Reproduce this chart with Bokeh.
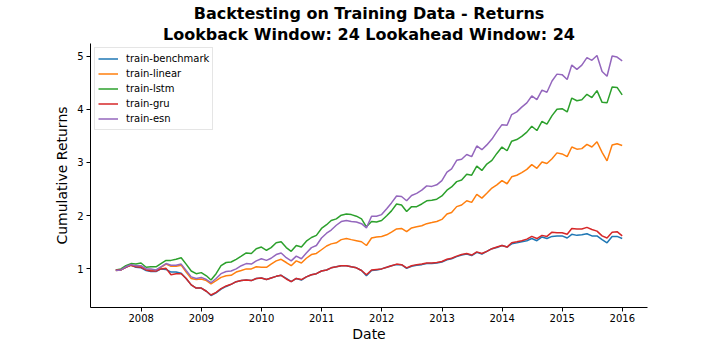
import pandas as pd
from bokeh.plotting import figure
from bokeh.models import Range1d, FixedTicker, DatetimeTickFormatter, Title
from bokeh.embed import file_html
from bokeh.resources import INLINE

# ---- data (month-end, 2007-07 .. 2015-12) ----
start_date = "2007-07-31"
n_months = 102
year_ticks = [2008, 2009, 2010, 2011, 2012, 2013, 2014, 2015, 2016]
y_ticks = [1, 2, 3, 4, 5]

benchmark = [0.98, 0.98, 1.03, 1.07, 1.03, 1.02, 0.97, 0.95, 0.95, 1.00,
             0.99, 0.94, 0.94, 0.92, 0.82, 0.70, 0.64, 0.64, 0.58, 0.50,
             0.55, 0.62, 0.67, 0.71, 0.76, 0.78, 0.79, 0.78, 0.82, 0.83,
             0.80, 0.83, 0.86, 0.88, 0.82, 0.76, 0.82, 0.79, 0.85, 0.89,
             0.91, 0.96, 0.98, 1.02, 1.04, 1.06, 1.06, 1.04, 1.02, 0.97,
             0.87, 0.97, 0.98, 1.00, 1.03, 1.06, 1.08, 1.08, 1.01, 1.05,
             1.07, 1.08, 1.10, 1.10, 1.11, 1.13, 1.17, 1.19, 1.23, 1.26,
             1.28, 1.25, 1.31, 1.28, 1.33, 1.38, 1.40, 1.44, 1.41, 1.47,
             1.49, 1.51, 1.53, 1.57, 1.53, 1.60, 1.57, 1.61, 1.62, 1.62,
             1.58, 1.65, 1.63, 1.64, 1.66, 1.62, 1.62, 1.55, 1.49, 1.61,
             1.61, 1.57]

linear = [0.97, 0.98, 1.04, 1.07, 1.05, 1.05, 0.99, 0.98, 0.97, 1.03,
          1.09, 1.05, 1.05, 1.07, 0.94, 0.82, 0.80, 0.81, 0.78, 0.72,
          0.78, 0.84, 0.87, 0.88, 0.94, 0.97, 1.00, 1.00, 1.04, 1.03,
          1.03, 1.09, 1.15, 1.18, 1.12, 1.06, 1.15, 1.11, 1.20, 1.27,
          1.29, 1.36, 1.43, 1.47, 1.49, 1.55, 1.57, 1.55, 1.53, 1.51,
          1.44, 1.58, 1.60, 1.61, 1.64, 1.69, 1.75, 1.76, 1.70, 1.77,
          1.79, 1.81, 1.85, 1.87, 1.89, 1.93, 2.03, 2.06, 2.17, 2.20,
          2.28, 2.25, 2.40, 2.33, 2.42, 2.52, 2.58, 2.66, 2.60, 2.73,
          2.76, 2.81, 2.87, 2.96, 2.89, 3.01, 2.98, 3.07, 3.18, 3.16,
          3.11, 3.29, 3.25, 3.26, 3.34, 3.29, 3.39, 3.19, 3.03, 3.33,
          3.35, 3.32]

lstm = [0.98, 1.00, 1.06, 1.10, 1.09, 1.11, 1.03, 1.04, 1.04, 1.10,
        1.16, 1.16, 1.18, 1.21, 1.09, 0.96, 0.91, 0.93, 0.87, 0.79,
        0.91, 1.06, 1.12, 1.13, 1.18, 1.24, 1.30, 1.29, 1.38, 1.41,
        1.35, 1.40, 1.49, 1.51, 1.40, 1.33, 1.44, 1.41, 1.52, 1.59,
        1.63, 1.76, 1.83, 1.91, 1.94, 2.01, 2.03, 2.02, 1.99, 1.94,
        1.79, 1.89, 1.88, 1.91, 2.00, 2.09, 2.22, 2.20, 2.08, 2.17,
        2.17, 2.22, 2.28, 2.29, 2.31, 2.37, 2.48, 2.54, 2.64, 2.67,
        2.78, 2.76, 2.93, 2.85, 2.97, 3.04, 3.17, 3.29, 3.22, 3.40,
        3.43, 3.49, 3.57, 3.68, 3.60, 3.77, 3.72, 3.88, 4.00, 4.01,
        3.95, 4.21, 4.16, 4.18, 4.28, 4.22, 4.35, 4.13, 4.12, 4.42,
        4.41, 4.27]

gru = [0.98, 0.98, 1.03, 1.07, 1.04, 1.03, 0.98, 0.96, 0.96, 1.00,
       1.01, 0.89, 0.91, 0.91, 0.82, 0.70, 0.64, 0.64, 0.58, 0.51,
       0.56, 0.63, 0.68, 0.71, 0.76, 0.78, 0.79, 0.78, 0.82, 0.83,
       0.80, 0.83, 0.86, 0.88, 0.81, 0.76, 0.82, 0.80, 0.85, 0.89,
       0.91, 0.96, 0.98, 1.02, 1.04, 1.06, 1.06, 1.04, 1.02, 0.97,
       0.89, 0.98, 0.99, 1.00, 1.03, 1.06, 1.09, 1.08, 1.02, 1.06,
       1.08, 1.09, 1.11, 1.11, 1.12, 1.14, 1.18, 1.20, 1.24, 1.27,
       1.29, 1.26, 1.32, 1.29, 1.33, 1.38, 1.41, 1.44, 1.41, 1.49,
       1.51, 1.53, 1.56, 1.61, 1.57, 1.63, 1.61, 1.69, 1.68, 1.68,
       1.65, 1.76, 1.75, 1.75, 1.78, 1.74, 1.71, 1.62, 1.58, 1.69,
       1.70, 1.62]

esn = [0.97, 0.98, 1.04, 1.08, 1.06, 1.06, 1.00, 1.00, 0.98, 1.04,
       1.10, 1.07, 1.07, 1.09, 0.97, 0.85, 0.82, 0.84, 0.80, 0.74,
       0.82, 0.91, 0.95, 0.96, 1.00, 1.06, 1.10, 1.09, 1.15, 1.19,
       1.16, 1.20, 1.27, 1.30, 1.21, 1.15, 1.24, 1.19, 1.30, 1.40,
       1.44, 1.58, 1.67, 1.73, 1.82, 1.89, 1.91, 1.89, 1.88, 1.85,
       1.77, 1.99, 1.99, 2.02, 2.13, 2.24, 2.37, 2.36, 2.28, 2.38,
       2.42, 2.48, 2.56, 2.55, 2.58, 2.66, 2.82, 2.88, 3.04, 3.06,
       3.15, 3.11, 3.31, 3.24, 3.33, 3.44, 3.58, 3.71, 3.70, 3.90,
       3.95, 4.04, 4.12, 4.25, 4.18, 4.36, 4.32, 4.53, 4.66, 4.65,
       4.56, 4.83, 4.75, 4.83, 4.97, 4.92, 5.01, 4.71, 4.62, 5.00,
       4.98, 4.91]

series_names = ["train-benchmark", "train-linear", "train-lstm", "train-gru", "train-esn"]
series_values = [benchmark, linear, lstm, gru, esn]
colors = ["#1f77b4", "#ff7f0e", "#2ca02c", "#d62728", "#9467bd"]

dates = pd.date_range(start_date, periods=n_months, freq=pd.offsets.MonthEnd())

# ---- ranges (matplotlib-like 5% margins) ----
to_ms = lambda ts: ts.value / 1e6
x0, x1 = to_ms(dates[0]), to_ms(dates[-1])
dx = x1 - x0
all_vals = [v for s in series_values for v in s]
y0, y1 = min(all_vals), max(all_vals)
dy = y1 - y0

FONT = "DejaVu Sans"

p = figure(width=704, height=344, x_axis_type="datetime", title=None,
           x_range=Range1d(x0 - 0.05 * dx, x1 + 0.05 * dx),
           y_range=Range1d(y0 - 0.05 * dy, y1 + 0.05 * dy),
           output_backend="svg", toolbar_location=None,
           min_border_left=90, min_border_right=57,
           min_border_top=43, min_border_bottom=36)

for name, vals, col in zip(series_names, series_values, colors):
    p.line(dates, vals, line_color=col, line_width=1.5, legend_label=name)

# titles
p.add_layout(Title(text="Lookback Window: 24 Lookahead Window: 24", align="center",
                   text_font=FONT, text_font_size="16px", text_font_style="bold",
                   text_color="black", standoff=0, offset=0), "above")
p.add_layout(Title(text="Backtesting on Training Data - Returns", align="center",
                   text_font=FONT, text_font_size="16px", text_font_style="bold",
                   text_color="black", standoff=0, offset=0), "above")

# axes
p.xgrid.grid_line_color = None
p.ygrid.grid_line_color = None
p.outline_line_color = None

p.xaxis.ticker = FixedTicker(ticks=[to_ms(pd.Timestamp(f"{y}-01-01")) for y in year_ticks])
p.xaxis.formatter = DatetimeTickFormatter(years="%Y", months="%Y", days="%Y",
                                          hours="%Y", minutes="%Y")
p.yaxis.ticker = FixedTicker(ticks=y_ticks)

for ax in (p.xaxis[0], p.yaxis[0]):
    ax.axis_line_color = "black"
    ax.axis_line_width = 1
    ax.major_tick_line_color = "black"
    ax.major_tick_line_width = 1
    ax.major_tick_out = 4
    ax.major_tick_in = 0
    ax.minor_tick_line_color = None
    ax.major_label_text_font = FONT
    ax.major_label_text_font_size = "10px"
    ax.major_label_text_color = "black"
    ax.major_label_standoff = 3
    ax.axis_label_text_font = FONT
    ax.axis_label_text_font_size = "14px"
    ax.axis_label_text_font_style = "normal"
    ax.axis_label_text_color = "black"
    ax.axis_label_standoff = 4

p.xaxis.major_label_standoff = 2
p.xaxis.axis_label_standoff = 1

p.xaxis.axis_label = "Date"
p.yaxis.axis_label = "Cumulative Returns"

# legend
lg = p.legend[0]
lg.location = "top_left"
lg.margin = 4
lg.padding = 3
lg.spacing = 0
lg.label_height = 15
lg.glyph_height = 15
lg.glyph_width = 20
lg.label_standoff = 8
lg.label_text_font = FONT
lg.label_text_font_size = "10px"
lg.label_text_color = "black"
lg.border_line_color = "#cccccc"
lg.border_line_width = 1
lg.background_fill_alpha = 0.8

open("out.html", "w").write(file_html(p, INLINE))
